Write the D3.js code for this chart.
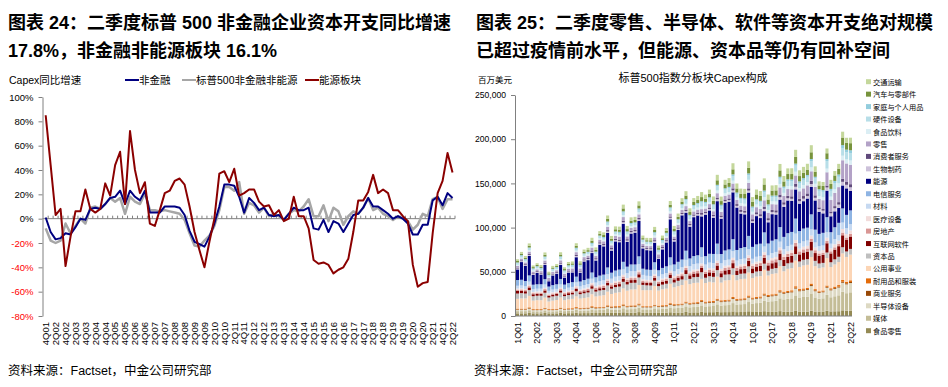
<!DOCTYPE html>
<meta charset="utf-8">
<script src="https://cdn.jsdelivr.net/npm/d3@7"></script>
<style>
  body { margin: 0; background: #fff; }
  text { font-family: "Liberation Sans", Arial, "Noto Sans CJK SC", sans-serif; }
</style>
<body>
<svg id="chart" width="948" height="387"></svg>
<script>
// ---------- left chart data: YoY capex growth (%) 4Q01..2Q22 ----------
var nonFin = [1,-11,-17,-16,-12,-13,-7,0,-1,8, 9,8,12,17,18,23,12,23,18,15,
  23,5,5,5,10,10,10,9,3,-10, -19,-21,-23,-15,-4,10,28,28,27,18,
  5,17,13,7,9,3,2,3,-1,4, 9,7,7,9,-8,-9,-1,-11,-2,-4,
  -11,-4,3,4,9,17,10,10,7,4, 0,2,0,-4,-13,-13,-5,-5,15,18, 11,21,17];
var nonFinNonEnergy = [-8,-18,-20,-18,-4,-12,-6,0,-4,9, 10,8,12,17,14,17,4,18,14,12,
  21,7,7,6,7,6,5,4,-1,-12, -22,-23,-18,-14,-6,7,26,26,23,30,
  4,13,11,5,9,2,4,2,-1,4, 7,6,10,16,2,2,11,-2,9,6,
  -5,2,6,4,9,17,7,9,4,2, -1,2,0,-2,-9,-5,4,2,16,18, 8,16,16];
var energyYoY = [85,44,3,8,-39,-15,6,6,24,8, 5,8,29,19,44,55,12,72,40,21,
  30,-4,-6,7,21,23,31,33,28,10, -11,-26,-40,-19,0,37,39,30,41,19,
  21,24,24,14,10,11,3,7,-2,0, 18,2,2,-8,-34,-37,-36,-38,-45,-42,
  -40,-33,-11,15,15,22,36,21,24,21, 7,7,2,-2,-38,-56,-53,-52,-12,21, 31,54,38];
var leftTicks = [-80,-60,-40,-20,0,20,40,60,80,100];

// ---------- right chart data: capex by sector, $bn, 1Q01..2Q22 ----------
var foodRetail = [3,3,3,3.5, 3,3,3,3.5, 3,3,3,3.5, 3,3.2,3.2,3.6, 3.2,3.3,3.3,3.8, 3.4,3.5,3.5,4, 3.5,3.6,3.6,4.2, 3.6,3.7,3.7,4.4, 3.5,3.5,3.5,4, 3.5,3.6,3.6,4.2, 3.8,3.9,3.9,4.6, 4,4.1,4.1,4.8, 4.2,4.3,4.3,5, 4.3,4.4,4.4,5.2, 4.4,4.5,4.5,5.3, 4.5,4.6,4.6,5.4, 4.6,4.7,4.7,5.5, 4.8,4.9,4.9,5.8, 5,5,5,6, 5,5,5,6, 5.2,5.3,5.4,6.4, 5.8,5.8];
var media = [2.5,2.5,2.5,3, 2.3,2.3,2.3,2.8, 2.3,2.3,2.4,2.9, 2.5,2.6,2.7,3.2, 2.8,2.9,3,3.5, 3.2,3.3,3.4,4, 3.6,3.7,3.8,4.5, 4,4.1,4.2,5, 4,4,4,4.6, 4.2,4.4,4.6,5.4, 5,5.2,5.4,6.3, 5.8,6,6.2,7.2, 6.6,6.8,7,8.2, 7.5,7.8,8,9.4, 8.6,8.8,9,10.5, 9.6,10,10.4,12, 11.5,12,12.5,14.5, 14,14.5,15,17.5, 16,16.5,17,19.5, 16,14.5,15,18, 16,17,18,21, 20,21];
var semis = [1.5,1.5,1.5,1.7, 1.3,1.3,1.3,1.5, 1.3,1.3,1.4,1.6, 1.5,1.6,1.6,1.8, 1.7,1.7,1.8,2, 1.9,2,2,2.3, 2.1,2.2,2.2,2.5, 2.3,2.4,2.4,2.7, 2.2,2.2,2.2,2.5, 2.4,2.5,2.6,3, 2.8,2.9,3,3.4, 3.2,3.3,3.4,3.8, 3.5,3.6,3.7,4.2, 3.9,4,4.1,4.6, 4.3,4.4,4.5,5, 4.7,4.9,5,5.7, 5.4,5.6,5.8,6.6, 6.4,6.6,6.8,7.7, 7,7.2,7.4,8.3, 7,6.6,6.8,8, 7.8,8.4,8.8,10.2, 10,10.5];
var commercial = [.6,.6,.6,.7, .6,.6,.6,.7, .6,.6,.6,.7, .6,.6,.6,.7, .7,.7,.7,.8, .7,.7,.7,.8, .8,.8,.8,.9, .8,.8,.8,.9, .7,.7,.7,.8, .8,.8,.8,.9, .8,.8,.8,.9, .9,.9,.9,1, .9,.9,.9,1, .9,.9,.9,1, .9,.9,.9,1, .9,.9,.9,1, 1,1,1,1.1, 1,1,1,1.1, 1,1,1,1.2, 1,.9,.9,1, 1,1,1.1,1.2, 1.2,1.2];
var durables = [.8,.8,.8,.9, .7,.7,.7,.8, .7,.7,.7,.8, .8,.8,.8,.9, .8,.8,.8,1, .9,.9,.9,1, .9,.9,.9,1.1, 1,1,1,1.1, .8,.8,.8,.9, .9,.9,.9,1, 1,1,1,1.1, 1.1,1.1,1.1,1.2, 1.1,1.1,1.1,1.2, 1.2,1.2,1.2,1.3, 1.2,1.2,1.2,1.4, 1.2,1.2,1.2,1.4, 1.3,1.3,1.3,1.5, 1.4,1.4,1.4,1.6, 1.5,1.5,1.5,1.7, 1.4,1,1.2,1.5, 1.4,1.6,1.7,2, 1.8,1.9];
var utilities = [11,11.5,11.5,13, 9.5,10,10,11.5, 8.5,9.5,10,11.5, 9.5,10,10.5,12, 10.5,11,11.5,13.5, 12,12.5,13,15.5, 14,15,15.5,18, 17,18,18,21, 18,18,18,21, 17,18,18.5,22, 19,20,21,24, 21,22,22,24, 21,22,21,25, 20,22,22,25, 21,22,22,26, 22,23,23,27, 22,23,23,27, 23,25,25,29, 25,26,26,30, 26,26,26,31, 24,25,26,30, 28,29];
var capGoods = [6,6,5.5,6.5, 5,5,5,5.5, 4.5,4.8,4.8,5.5, 4.6,4.9,5,5.8, 5,5.3,5.5,6.3, 5.5,6,6,7, 6,6.5,6.5,7.5, 7,7.5,7.5,8.5, 6,5.5,5.3,6.2, 5,5.3,5.5,6.5, 5.5,6,6.2,7.2, 6,6.5,6.5,7.5, 6,6.3,6.3,7.3, 6,6.5,6.5,7.5, 6,6,6,7, 5.5,5.7,5.7,6.7, 5.5,5.8,5.9,7, 6,6.2,6.3,7.4, 6.2,6.4,6.4,7.4, 6,5.4,5.2,6.3, 5.4,5.8,6,7, 6.2,6.5];
var software = [3,2.8,2.6,3, 2.2,2.2,2.2,2.6, 2,2,2,2.4, 2,2.1,2.1,2.6, 2.1,2.2,2.3,2.8, 2.4,2.5,2.5,3, 2.6,2.7,2.8,3.3, 3,3.1,3.1,3.6, 2.8,2.8,2.8,3.3, 3,3.2,3.3,3.9, 3.5,3.7,3.8,4.4, 4,4.1,4.2,4.8, 4.2,4.4,4.5,5.2, 4.6,4.8,5,5.8, 5,5.2,5.4,6.2, 5.4,5.6,5.8,6.6, 6,6.3,6.6,7.5, 7,7.4,7.8,8.8, 8,8.3,8.6,9.6, 8.8,8.8,9.2,10.5, 10,11,12,13.5, 13,14];
var realEstate = [1.3,1.3,1.3,1.5, 1.3,1.3,1.3,1.5, 1.3,1.3,1.3,1.5, 1.4,1.4,1.5,1.7, 1.6,1.7,1.8,2, 2,2,2.1,2.4, 2.2,2.3,2.3,2.6, 2.3,2.3,2.2,2.4, 1.8,1.7,1.7,1.9, 1.7,1.8,1.9,2.2, 2,2.1,2.2,2.5, 2.3,2.4,2.5,2.8, 2.6,2.7,2.8,3.1, 2.9,3,3.1,3.4, 3,3.1,3.2,3.5, 3.1,3.2,3.3,3.6, 3.2,3.3,3.4,3.7, 3.3,3.4,3.5,3.8, 3.4,3.5,3.5,3.8, 3.2,2.6,2.4,2.8, 2.4,2.6,2.7,3.1, 2.8,3];
var healthEq = [1.3,1.3,1.3,1.5, 1.3,1.3,1.3,1.5, 1.3,1.3,1.3,1.5, 1.4,1.4,1.4,1.6, 1.5,1.5,1.5,1.7, 1.6,1.6,1.6,1.9, 1.7,1.7,1.7,2, 1.8,1.8,1.8,2.1, 1.7,1.7,1.7,2, 1.8,1.8,1.8,2.1, 1.9,1.9,1.9,2.2, 2,2,2,2.3, 2.1,2.1,2.1,2.4, 2.2,2.2,2.2,2.6, 2.3,2.3,2.3,2.7, 2.4,2.4,2.4,2.8, 2.6,2.6,2.6,3, 2.8,2.8,2.8,3.3, 3,3,3,3.5, 3,2.8,2.9,3.5, 3.2,3.4,3.5,4, 3.8,3.9];
var materials = [3.2,3.2,3,3.6, 3.2,3.2,3.2,3.8, 3,3.1,3.2,3.8, 3.2,3.4,3.5,4.2, 3.6,3.8,4,4.8, 4.2,4.4,4.6,5.4, 4.8,5,5.2,6.2, 5.6,6,6,7, 5,4.6,4.4,5.2, 4.5,4.8,5,6, 5.2,5.6,5.9,7, 6,6.3,6.4,7.4, 6,6.2,6.2,7.3, 6.1,6.3,6.4,7.6, 6,6,6,7, 5.4,5.5,5.5,6.4, 5.4,5.6,5.7,6.7, 5.8,6,6.1,7.2, 6,6,6,7, 5.8,5.3,5.2,6.2, 5.4,5.8,6.2,7.3, 6.8,7.2];
var telecom = [6.5,6.5,6,7, 5,5,5,6, 4.8,5,5.2,6.2, 5,5.2,5.4,6.4, 5.5,5.8,6,7, 6,6.3,6.5,7.6, 6.8,7,7.2,8.5, 7.4,7.6,7.6,8.8, 7,7,7.1,8.4, 7,7.3,7.7,9.2, 7.8,8.2,8.8,10.3, 8.8,9.1,9.4,10.9, 9.5,10,10.3,12, 10.5,11,11.5,13.5, 12,12.5,13,15, 13.5,14,14,16, 13.5,14,14.3,16.5, 14,14.5,14.5,17, 14,14.5,14.5,17, 14.5,14,14.3,17, 13,13.5,14,16, 15,15.5];
var energy = [12,20,17,22, 11,13,11,16, 6,11,12,16, 8,12,11,22, 10,21,21,22, 19,35,32,39, 25,33,31,43, 28,35,36,40, 23,22,22,22, 13,21,27,43, 26,36,50,43, 36,44,45,35, 47,49,41,48, 40,54,54,53, 48,39,37,49, 27,32,29,24, 24,30,28,31, 34,37,35,33, 31,31,33,31, 33,25,22,30, 18,18,17,26, 30,22];
var pharma = [1,1,1,1.2, 1,1,1,1.3, 1,1,1,1.3, 1.1,1.1,1.1,1.4, 1.2,1.2,1.2,1.5, 1.3,1.3,1.3,1.6, 1.4,1.4,1.4,1.7, 1.5,1.5,1.5,1.8, 1.4,1.4,1.4,1.7, 1.4,1.4,1.4,1.7, 1.5,1.5,1.5,1.8, 1.6,1.6,1.6,1.9, 1.7,1.7,1.7,2.1, 1.8,1.8,1.8,2.2, 1.9,1.9,1.9,2.3, 2.1,2.1,2.1,2.5, 2.3,2.3,2.3,2.8, 2.5,2.5,2.5,3, 2.8,2.8,2.8,3.3, 3,3,3.1,3.6, 3.4,3.5,3.6,4.1, 4,4.1];
var consumer = [1,1,1,1.2, .9,.9,.9,1.2, .9,.9,.9,1.2, 1,1,1,1.3, 1.1,1.1,1.2,1.4, 1.3,1.4,1.4,1.7, 1.5,1.5,1.6,1.9, 1.6,1.6,1.6,1.9, 1.2,1.1,1.1,1.3, 1.1,1.2,1.2,1.5, 1.3,1.4,1.4,1.7, 1.5,1.5,1.6,1.9, 1.6,1.7,1.7,2, 1.8,1.9,1.9,2.3, 2,2.1,2.1,2.5, 2.2,2.3,2.3,2.7, 2.4,2.5,2.5,3, 2.7,2.8,2.8,3.3, 2.9,3,3,3.5, 2.8,2,1.8,2.2, 2,2.4,2.8,3.4, 3.2,3.5];
var retail = [2,2,2,2.5, 2,2,2,2.6, 2,2,2,2.6, 2.2,2.3,2.4,3, 2.5,2.6,2.7,3.3, 2.8,2.9,3,3.7, 3.1,3.2,3.3,4, 3.2,3.2,3.1,3.8, 2.5,2.4,2.4,3, 2.5,2.6,2.7,3.4, 2.8,3,3.1,3.9, 3.2,3.4,3.5,4.4, 3.6,3.8,3.9,4.9, 4.1,4.3,4.5,5.5, 4.7,5,5.2,6.3, 5.5,5.7,5.9,7.1, 6.2,6.5,6.7,8.1, 7.2,7.6,7.9,9.5, 8.3,8.7,9.1,10.9, 9.5,9.5,10,15, 13,15,17,21, 21,22];
var foodBev = [1.2,1.2,1.2,1.5, 1.2,1.2,1.2,1.5, 1.2,1.2,1.2,1.5, 1.3,1.3,1.4,1.7, 1.4,1.5,1.5,1.8, 1.6,1.6,1.7,2.1, 1.8,1.8,1.9,2.3, 2,2,2,2.4, 1.8,1.8,1.8,2.2, 1.9,1.9,1.9,2.3, 2,2.1,2.1,2.6, 2.2,2.3,2.3,2.8, 2.4,2.5,2.5,3, 2.6,2.7,2.7,3.2, 2.7,2.8,2.8,3.4, 2.9,3,3,3.6, 3.1,3.2,3.2,3.9, 3.4,3.5,3.5,4.2, 3.6,3.7,3.7,4.4, 3.6,3.2,3.3,4.1, 3.8,4.1,4.3,5.1, 4.6,4.8];
var hardware = [1.8,1.8,1.7,2.1, 1.5,1.5,1.5,1.9, 1.5,1.5,1.5,1.9, 1.6,1.6,1.7,2.1, 1.7,1.8,1.8,2.2, 1.9,2,2,2.5, 2.1,2.2,2.2,2.7, 2.3,2.3,2.2,2.7, 2,1.9,2,2.5, 2.2,2.4,2.6,3.2, 2.8,3,3.2,3.9, 3.5,3.7,3.8,4.6, 3.7,3.9,4,4.8, 4,4.2,4.3,5.2, 4.2,4.3,4.4,5.3, 4.3,4.4,4.5,5.4, 4.6,4.8,5,6, 5.3,5.6,5.8,6.9, 5.7,5.9,6,7.1, 6,6,6.2,8.5, 6.6,7,7.4,8.8, 8,8.4];
var household = [.9,.9,.9,1.1, .9,.9,.9,1.1, .9,.9,.9,1.1, .9,.9,1,1.2, 1,1,1.1,1.3, 1.1,1.1,1.2,1.4, 1.2,1.2,1.3,1.5, 1.3,1.3,1.3,1.6, 1.1,1.1,1.1,1.4, 1.1,1.1,1.1,1.4, 1.2,1.2,1.3,1.5, 1.3,1.3,1.3,1.6, 1.4,1.4,1.4,1.7, 1.5,1.5,1.6,1.9, 1.5,1.6,1.6,1.9, 1.6,1.6,1.7,2, 1.7,1.7,1.8,2.1, 1.8,1.9,1.9,2.3, 1.9,2,2,2.4, 1.9,1.8,1.9,2.3, 2.2,2.4,2.6,3.2, 3,3.2];
var autos = [1.6,1.6,1.5,2, 1.4,1.4,1.4,2, 1.4,1.4,1.4,2, 1.5,1.6,1.6,2.2, 1.7,1.8,1.8,2.5, 2,2.1,2.2,3, 2.3,2.4,2.5,3.3, 2.6,2.7,2.6,3.4, 1.6,1.5,1.6,2.4, 1.8,2,2.2,3, 2.5,2.7,2.9,3.9, 3.2,3.4,3.5,4.6, 3.6,3.8,3.9,5.1, 4.1,4.3,4.4,5.7, 4.6,4.8,5,6.4, 5.2,5.4,5.5,6.9, 5.5,5.7,5.8,7.2, 5.8,6,6.1,7.6, 6,6.1,6.1,7.6, 5.8,4.3,4.8,6.6, 5.6,6.2,6.6,8.6, 7.6,8];
var transport = [2,2,2,2.6, 1.9,1.9,1.9,2.6, 1.9,1.9,1.9,2.6, 2,2.1,2.2,2.9, 2.4,2.5,2.6,3.3, 2.8,2.9,3,3.8, 3.2,3.3,3.4,4.3, 3.6,3.7,3.6,4.6, 2.9,2.7,2.7,3.5, 2.8,3,3.2,4.2, 3.5,3.7,3.9,5, 4.2,4.4,4.5,5.7, 4.6,4.8,4.9,6.2, 5.1,5.3,5.5,6.9, 5.6,5.7,5.8,7.2, 5.5,5.6,5.6,6.9, 5.6,5.8,5.9,7.3, 6.2,6.4,6.5,8, 6.5,6.6,6.6,8, 6,4.6,4.4,5.4, 4.6,5,5.4,6.6, 5.8,6.2];
var rightTicks = [0,50,100,150,200,250];   // $bn, labelled in $mn

// stack order bottom -> top
var sectors = [
  {name:"食品零售", color:"#948a54", values:foodRetail},
  {name:"媒体", color:"#c4bd97", values:media},
  {name:"半导体设备", color:"#ddd9c3", values:semis},
  {name:"商业服务", color:"#984807", values:commercial},
  {name:"耐用品和服装", color:"#e46c0a", values:durables},
  {name:"公用事业", color:"#fcd5b5", values:utilities},
  {name:"资本品", color:"#bfbfbf", values:capGoods},
  {name:"互联网软件", color:"#800000", values:software},
  {name:"房地产", color:"#d99694", values:realEstate},
  {name:"医疗设备", color:"#f2dcdb", values:healthEq},
  {name:"材料", color:"#c6d9f1", values:materials},
  {name:"电信服务", color:"#8eb4e3", values:telecom},
  {name:"能源", color:"#000080", values:energy},
  {name:"生物制药", color:"#ccc1da", values:pharma},
  {name:"消费者服务", color:"#604a7b", values:consumer},
  {name:"零售", color:"#b3a2c7", values:retail},
  {name:"食品饮料", color:"#dbeef4", values:foodBev},
  {name:"硬件设备", color:"#b7dee8", values:hardware},
  {name:"家庭与个人用品", color:"#93cddd", values:household},
  {name:"汽车与零部件", color:"#77933c", values:autos},
  {name:"交通运输", color:"#c4d79b", values:transport}
];

function quarters(y0, q0, y1, q1) {
  var out = [];
  for (var y = y0, q = q0; y < y1 || (y == y1 && q <= q1); ) {
    out.push(q + "Q" + String(y).slice(2));
    q++; if (q > 4) { q = 1; y++; }
  }
  return out;
}
var qLeft = quarters(2001, 4, 2022, 2);
var qRight = quarters(2001, 1, 2022, 2);

var svg = d3.select("#chart");

// ---------- titles ----------
function title(x, lines) {
  var t = svg.append("text").attr("x", x).attr("font-size", 18).attr("font-weight", "bold");
  lines.forEach(function(l, i) {
    t.append("tspan").attr("x", x).attr("y", 29 + i * 28).text(l);
  });
}
title(8, ["图表 24：二季度标普 500 非金融企业资本开支同比增速", "17.8%，非金融非能源板块 16.1%"]);
title(476, ["图表 25：二季度零售、半导体、软件等资本开支绝对规模", "已超过疫情前水平，但能源、资本品等仍有回补空间"]);

svg.append("text").attr("x", 8).attr("y", 375).attr("font-size", 12.5).text("资料来源：Factset，中金公司研究部");
svg.append("text").attr("x", 474).attr("y", 375).attr("font-size", 12.5).text("资料来源：Factset，中金公司研究部");

// ---------- left chart ----------
var yL = d3.scaleLinear().domain([-80, 100]).range([316, 97]);
var xL = d3.scaleBand().domain(qLeft).range([43.2, 455]);
var cx = function(q) { return xL(q) + xL.bandwidth() / 2; };

svg.append("text").attr("x", 9).attr("y", 84).attr("font-size", 10.5).text("Capex同比增速");

var gy = svg.append("g").attr("transform", "translate(42.5,0)")
  .call(d3.axisLeft(yL).tickValues(leftTicks).tickSize(4).tickSizeOuter(0).tickFormat(function(d) { return d + "%"; }));
gy.select(".domain").attr("stroke", "#808080");
gy.selectAll(".tick line").attr("stroke", "#808080");
gy.selectAll(".tick text").attr("font-size", 9.5).attr("font-family", null).attr("x", -9)
  .attr("fill", function(d) { return d < 0 ? "#ff0000" : "#000"; });

// zero axis with category ticks
svg.append("line").attr("x1", 42.5).attr("x2", 455).attr("y1", yL(0)).attr("y2", yL(0)).attr("stroke", "#808080");
svg.append("g").selectAll("line").data(qLeft.slice(1).concat(["end"])).join("line")
  .attr("x1", function(d) { return d == "end" ? 455 : xL(d); })
  .attr("x2", function(d) { return d == "end" ? 455 : xL(d); })
  .attr("y1", yL(0)).attr("y2", yL(0) - 3).attr("stroke", "#808080");

svg.append("g").selectAll("text").data(qLeft.filter(function(d, i) { return i % 2 == 0; })).join("text")
  .attr("transform", function(d) { return "translate(" + cx(d) + ",322) rotate(-90)"; })
  .attr("text-anchor", "end").attr("dy", "0.35em").attr("font-size", 9.5).text(function(d) { return d; });

var lineL = function(vals) {
  return d3.line().x(function(d, i) { return cx(qLeft[i]); }).y(function(d) { return yL(d); })(vals);
};
var leftSeries = [
  {name:"非金融", color:"#000080", width:2, values:nonFin, lx:125},
  {name:"标普500非金融非能源", color:"#a6a6a6", width:2.5, values:nonFinNonEnergy, lx:182},
  {name:"能源板块", color:"#8b0000", width:2, values:energyYoY, lx:305}
];
[leftSeries[1], leftSeries[0], leftSeries[2]].forEach(function(s) {
  svg.append("path").attr("d", lineL(s.values)).attr("fill", "none")
    .attr("stroke", s.color).attr("stroke-width", s.width).attr("stroke-linejoin", "round");
});
leftSeries.forEach(function(s) {
  svg.append("line").attr("x1", s.lx).attr("x2", s.lx + 14).attr("y1", 80).attr("y2", 80)
    .attr("stroke", s.color).attr("stroke-width", 2);
  svg.append("text").attr("x", s.lx + 14).attr("y", 84).attr("font-size", 10.5).text(s.name);
});

// ---------- right chart ----------
var yR = d3.scaleLinear().domain([0, 250]).range([316, 95]);
var xR = d3.scaleBand().domain(qRight).range([516, 852]).paddingInner(0.22);

svg.append("text").attr("x", 478).attr("y", 83).attr("font-size", 8.5).text("百万美元");
svg.append("text").attr("x", 693).attr("y", 82).attr("font-size", 11).attr("text-anchor", "middle").text("标普500指数分板块Capex构成");

var rows = qRight.map(function(q, i) {
  var r = {q: q};
  sectors.forEach(function(s) { r[s.name] = s.values[i]; });
  return r;
});
var stacked = d3.stack().keys(sectors.map(function(s) { return s.name; }))(rows);

svg.append("g").selectAll("g").data(stacked).join("g")
  .attr("fill", function(d, i) { return sectors[i].color; })
  .selectAll("rect").data(function(d) { return d; }).join("rect")
  .attr("x", function(d) { return xR(d.data.q); })
  .attr("width", xR.bandwidth())
  .attr("y", function(d) { return yR(d[1]); })
  .attr("height", function(d) { return Math.max(0, yR(d[0]) - yR(d[1])); });

var gyR = svg.append("g").attr("transform", "translate(515,0)")
  .call(d3.axisLeft(yR).tickValues(rightTicks).tickSize(4).tickSizeOuter(0)
    .tickFormat(function(d) { return d3.format(",")(d * 1000); }));
gyR.select(".domain").attr("stroke", "#808080");
gyR.selectAll(".tick line").attr("stroke", "#808080");
gyR.selectAll(".tick text").attr("font-size", 8.6).attr("font-family", null).attr("x", -9).attr("fill", "#000");

svg.append("line").attr("x1", 515).attr("x2", 852).attr("y1", 316).attr("y2", 316).attr("stroke", "#808080");
svg.append("g").selectAll("text").data(qRight.filter(function(d, i) { return i % 5 == 0; })).join("text")
  .attr("transform", function(d) { return "translate(" + (xR(d) + xR.bandwidth() / 2) + ",322) rotate(-90)"; })
  .attr("text-anchor", "end").attr("dy", "0.35em").attr("font-size", 8.9).text(function(d) { return d; });

var legend = svg.append("g").selectAll("g").data(sectors.slice().reverse()).join("g")
  .attr("transform", function(d, i) { return "translate(866," + (81.7 + i * 12.45) + ")"; });
legend.append("rect").attr("x", 0).attr("y", -2.5).attr("width", 5).attr("height", 5).attr("fill", function(d) { return d.color; });
legend.append("text").attr("x", 7).attr("y", 3).attr("font-size", 7.2).text(function(d) { return d.name; });

// sanity check on series lengths
var bad = sectors.filter(function(s) { return s.values.length != qRight.length; }).map(function(s) { return s.name + s.values.length; });
if (nonFin.length != qLeft.length) bad.push("nonFin" + nonFin.length);
if (nonFinNonEnergy.length != qLeft.length) bad.push("gray" + nonFinNonEnergy.length);
if (energyYoY.length != qLeft.length) bad.push("red" + energyYoY.length);
if (bad.length) svg.append("text").attr("x", 500).attr("y", 200).attr("fill", "red").text(bad.join(" "));
</script>
</body>
